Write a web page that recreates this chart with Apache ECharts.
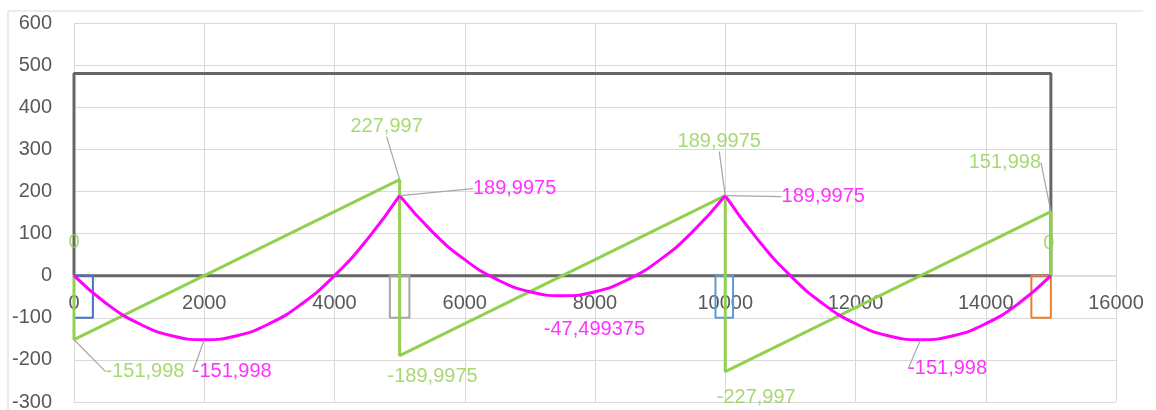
<!DOCTYPE html>
<html>
<head>
<meta charset="utf-8">
<script src="https://cdn.jsdelivr.net/npm/echarts@6/dist/echarts.min.js"></script>
<style>
html,body{margin:0;padding:0;background:#fff;}
#chart{width:1156px;height:410px;}
</style>
</head>
<body>
<div id="chart"></div>
<script>
// ---- data ----
const xTicks = [0, 2000, 4000, 6000, 8000, 10000, 12000, 14000, 16000];
const yTicks = [-300, -200, -100, 0, 100, 200, 300, 400, 500, 600];

const beamLength = 15000;
const beamHeight = 480;

const supportStart = [0, 4850, 9850, 14700];
const supportEnd   = [290, 5150, 10120, 15000];
const supportDepth = -100;

const shearX = [0, 0, 5000, 5000, 10000, 10000, 15000, 15000];
const shearV = [0, -151.998, 227.997, -189.9975, 189.9975, -227.997, 151.998, 0];

const momentX = [0, 500, 1000, 1500, 2000, 2500, 3000, 3500, 4000, 4500, 5000,
                 5500, 6000, 6500, 7000, 7500, 8000, 8500, 9000, 9500, 10000,
                 10500, 11000, 11500, 12000, 12500, 13000, 13500, 14000, 14500, 15000];
const momentM = [0, -66.5, -114, -142.5, -151.998, -142.5, -114, -66.5, 0, 85.5, 189.9975,
                 104.5, 38, -9.5, -38, -47.499375, -38, -9.5, 38, 104.5, 189.9975,
                 85.5, 0, -66.5, -114, -142.5, -151.998, -142.5, -114, -66.5, 0];

const momentLabelX = [2000, 5000, 7500, 10000, 13000];
const momentLabelM = [-151.998, 189.9975, -47.499375, 189.9975, -151.998];

// ---- styles / layout ----
const W = 1156, H = 410;
const GRID = {left: 74, right: 40, top: 23, bottom: 8};
const plotH = H - GRID.top - GRID.bottom;
const yMin = yTicks[0], yMax = yTicks[yTicks.length-1];
const zeroFromBottom = plotH * (0 - yMin) / (yMax - yMin);

const supportColors = ['#4472C4', '#A5A5A5', '#5B9BD5', '#ED7D31'];
const shearLabelOffset = [[0,-33],[71,32],[-13,-53],[33,21],[-6,-54],[31,26],[-46,-49],[-2,-32]];
const shearLeader = [false, true, true, false, true, false, true, false];
const momentLabelOffset = [[28,32],[115,-7],[32,34],[98,1],[27,29]];
const momentLeader = [true, true, false, true, true];

const GREEN = '#92D050';
const MAGENTA = '#FF00FF';
const FONT = '"Liberation Sans", Arial, sans-serif';
const fmt = v => String(v).replace('.', ',');

const chart = echarts.init(document.getElementById('chart'));

const series = [];
series.push({
  type: 'line', silent: true, symbol: 'none', z: 1,
  data: [[0,0],[0,beamHeight],[beamLength,beamHeight],[beamLength,0],[0,0]],
  lineStyle: {color: '#666666', width: 3}
});
supportStart.forEach((s, i) => {
  const e = supportEnd[i];
  series.push({
    type: 'line', silent: true, symbol: 'none', z: 2,
    data: [[s,0],[s,supportDepth],[e,supportDepth],[e,0],[s,0]],
    lineStyle: {color: supportColors[i], width: 2}
  });
});
series.push({
  type: 'line', silent: true, symbol: 'none', z: 3,
  data: shearX.map((x, i) => [x, shearV[i]]),
  lineStyle: {color: GREEN, width: 3}
});
for (let k = 0; k < 3; k++) {
  const xs = momentX.slice(k*10, k*10+11);
  const ms = momentM.slice(k*10, k*10+11);
  series.push({
    type: 'line', silent: true, symbol: 'none', smooth: true, z: 4,
    data: xs.map((x, i) => [x, ms[i]]),
    lineStyle: {color: MAGENTA, width: 3}
  });
}
series.push({
  type: 'scatter', silent: true, symbolSize: 1, z: 5,
  itemStyle: {color: 'rgba(0,0,0,0)'},
  data: shearX.map((x, i) => ({value: [x, shearV[i]], labelLine: {show: shearLeader[i]}})),
  label: {show: true, position: 'inside', color: GREEN, fontSize: 20, fontFamily: FONT,
          formatter: p => fmt(p.value[1])},
  labelLine: {show: true, lineStyle: {color: '#a6a6a6', width: 1.2}},
  labelLayout: p => ({dx: shearLabelOffset[p.dataIndex][0], dy: shearLabelOffset[p.dataIndex][1]})
});
series.push({
  type: 'scatter', silent: true, symbolSize: 1, z: 5,
  itemStyle: {color: 'rgba(0,0,0,0)'},
  data: momentLabelX.map((x, i) => ({value: [x, momentLabelM[i]], labelLine: {show: momentLeader[i]}})),
  label: {show: true, position: 'inside', color: MAGENTA, fontSize: 20, fontFamily: FONT,
          formatter: p => fmt(p.value[1])},
  labelLine: {show: true, lineStyle: {color: '#a6a6a6', width: 1.2}},
  labelLayout: p => ({dx: momentLabelOffset[p.dataIndex][0], dy: momentLabelOffset[p.dataIndex][1]})
});

chart.setOption({
  animation: false,
  backgroundColor: '#fff',
  grid: Object.assign({containLabel: false, outerBoundsMode: 'none'}, GRID),
  xAxis: {
    type: 'value', position: 'bottom', offset: -zeroFromBottom,
    min: xTicks[0], max: xTicks[xTicks.length-1], interval: 2000,
    axisLine: {show: true, onZero: false, lineStyle: {color: '#d9d9d9', width: 1.5}},
    axisTick: {show: false},
    axisLabel: {color: '#595959', fontSize: 20, fontFamily: FONT, margin: 18,
                showMinLabel: true, showMaxLabel: true, formatter: v => String(v)},
    splitLine: {show: true, lineStyle: {color: '#d9d9d9', width: 1}}
  },
  yAxis: {
    type: 'value', min: yMin, max: yMax, interval: 100,
    axisLine: {show: false, onZero: false},
    axisTick: {show: false},
    axisLabel: {color: '#595959', fontSize: 20, fontFamily: FONT, margin: 22, formatter: v => String(v)},
    splitLine: {show: true, lineStyle: {color: '#d9d9d9', width: 1}}
  },
  graphic: [
    {type: 'line', shape: {x1: 8, y1: 11, x2: 1143, y2: 11}, style: {stroke: '#d9d9d9', lineWidth: 1}},
    {type: 'line', shape: {x1: 8, y1: 11, x2: 8, y2: 410}, style: {stroke: '#d9d9d9', lineWidth: 1}}
  ],
  series: series
});
</script>
</body>
</html>
